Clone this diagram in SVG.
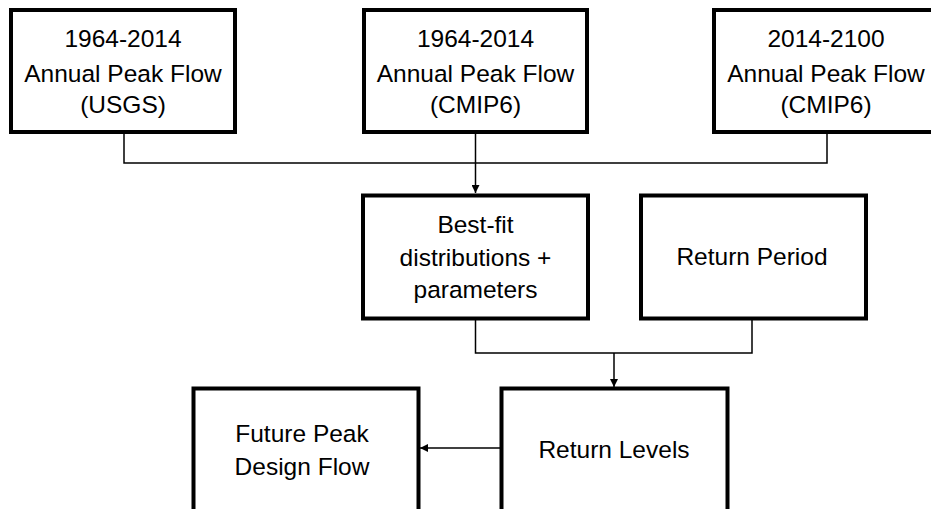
<svg xmlns="http://www.w3.org/2000/svg" width="931" height="509" viewBox="0 0 931 509">
  <style>
    .box { fill: #ffffff; stroke: #000000; stroke-width: 4; }
    .lbl { font-family: "Liberation Sans", Arial, sans-serif; font-size: 24.5px; fill: #000000; text-anchor: middle; }
    .conn { fill: none; stroke: #000000; stroke-width: 1.5; }
  </style>
  <defs>
    <marker id="arrow" viewBox="0 0 10 10" refX="10" refY="5" markerWidth="8" markerHeight="8" markerUnits="userSpaceOnUse" orient="auto">
      <path d="M0,0 L10,5 L0,10 Z" fill="#000000"/>
    </marker>
  </defs>
  <rect width="931" height="509" fill="#ffffff"/>

  <g id="connectors">
    <path class="conn" d="M124,134 V163 H827 V134"/>
    <path class="conn" d="M475.5,134 V193" marker-end="url(#arrow)"/>
    <path class="conn" d="M475.5,320 V353 H752 V320"/>
    <path class="conn" d="M614,353 V387" marker-end="url(#arrow)"/>
    <path class="conn" d="M500,448 H420" marker-end="url(#arrow)"/>
  </g>

  <g id="usgs">
    <rect class="box" x="11" y="10" width="224" height="122"/>
    <text class="lbl" x="123" y="47">1964-2014</text>
    <text class="lbl" x="123" y="82">Annual Peak Flow</text>
    <text class="lbl" x="123" y="113">(USGS)</text>
  </g>
  <g id="cmip6-hist">
    <rect class="box" x="364" y="10" width="223" height="122"/>
    <text class="lbl" x="475.5" y="47">1964-2014</text>
    <text class="lbl" x="475.5" y="82">Annual Peak Flow</text>
    <text class="lbl" x="475.5" y="113">(CMIP6)</text>
  </g>
  <g id="cmip6-future">
    <rect class="box" x="714" y="10" width="223" height="122"/>
    <text class="lbl" x="826" y="47">2014-2100</text>
    <text class="lbl" x="826" y="82">Annual Peak Flow</text>
    <text class="lbl" x="826" y="113">(CMIP6)</text>
  </g>
  <g id="bestfit">
    <rect class="box" x="363" y="195.5" width="225" height="123"/>
    <text class="lbl" x="475.5" y="233">Best-fit</text>
    <text class="lbl" x="475.5" y="266">distributions +</text>
    <text class="lbl" x="475.5" y="298">parameters</text>
  </g>
  <g id="return-period">
    <rect class="box" x="641" y="195.5" width="225" height="123"/>
    <text class="lbl" x="752" y="265">Return Period</text>
  </g>
  <g id="future-peak">
    <rect class="box" x="193.5" y="388.5" width="225" height="200"/>
    <text class="lbl" x="302" y="442">Future Peak</text>
    <text class="lbl" x="302" y="475">Design Flow</text>
  </g>
  <g id="return-levels">
    <rect class="box" x="501.5" y="388.5" width="226" height="200"/>
    <text class="lbl" x="614" y="458">Return Levels</text>
  </g>
</svg>
